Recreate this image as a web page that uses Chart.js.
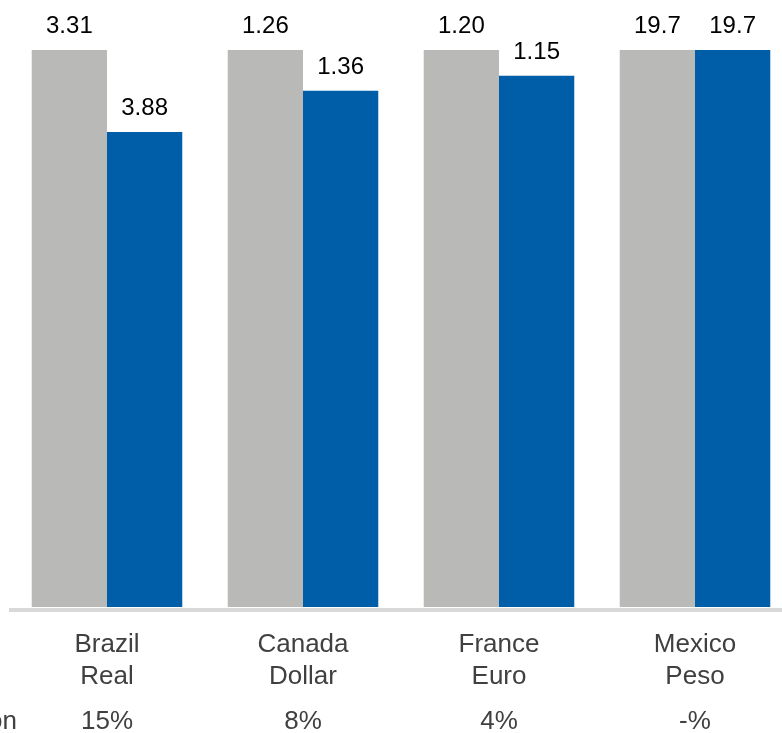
<!DOCTYPE html>
<html>
<head>
<meta charset="utf-8">
<script src="https://cdn.jsdelivr.net/npm/chart.js@4/dist/chart.umd.min.js"></script>
<style>
  html, body { margin: 0; padding: 0; background: #fff; overflow: hidden; }
  #wrap { width: 782px; height: 733px; overflow: hidden; position: relative; }
  #wrap canvas { position: absolute; left: 0; top: 0; }
</style>
</head>
<body>
<div id="wrap"><canvas id="fxChart" width="800" height="733"></canvas></div>
<script>
// currencies shown, two lines each
const categories = [['Brazil', 'Real'], ['Canada', 'Dollar'], ['France', 'Euro'], ['Mexico', 'Peso']];
// bar heights, indexed to the earlier rate = 100
const earlierIndex = [100, 100, 100, 100];
const laterIndex = [85.3, 92.7, 95.4, 100];
// rates printed above the bars
const earlierRates = ['3.31', '1.26', '1.20', '19.7'];
const laterRates = ['3.88', '1.36', '1.15', '19.7'];
// bottom row
const rowTitle = 'Devaluation';
const devaluation = ['15%', '8%', '4%', '-%'];

const FONT = '"Liberation Sans", Arial, sans-serif';

// value labels, axis line and category text
const labelsPlugin = {
  id: 'fxLabels',
  afterDatasetsDraw(chart) {
    const ctx = chart.ctx;
    const area = chart.chartArea;
    const x = chart.scales.x;
    const rates = [earlierRates, laterRates];

    ctx.save();
    // axis line
    ctx.fillStyle = '#d9d9d9';
    ctx.fillRect(area.left, area.bottom + 1, area.right - area.left + 20, 4);

    // numbers above bars
    ctx.fillStyle = '#000';
    ctx.font = '24px ' + FONT;
    ctx.textAlign = 'center';
    ctx.textBaseline = 'alphabetic';
    chart.data.datasets.forEach((ds, i) => {
      chart.getDatasetMeta(i).data.forEach((bar, j) => {
        ctx.fillText(rates[i][j], bar.x, bar.y - 17);
      });
    });

    // category names and devaluation row
    ctx.fillStyle = '#404040';
    ctx.font = '26px ' + FONT;
    categories.forEach((lines, j) => {
      const cx = x.getPixelForValue(j);
      ctx.fillText(lines[0], cx, area.bottom + 45);
      ctx.fillText(lines[1], cx, area.bottom + 77);
      ctx.fillText(devaluation[j], cx, area.bottom + 122);
    });
    ctx.textAlign = 'right';
    ctx.fillText(rowTitle, 17, area.bottom + 122);
    ctx.restore();
  }
};

new Chart(document.getElementById('fxChart'), {
  type: 'bar',
  data: {
    labels: categories.map(c => c.join(' ')),
    datasets: [{
      label: 'Earlier',
      data: earlierIndex,
      backgroundColor: '#b9b9b7',
      borderWidth: 0
    }, {
      label: 'Later',
      data: laterIndex,
      backgroundColor: '#005ea8',
      borderWidth: 0
    }]
  },
  options: {
    responsive: false,
    animation: false,
    events: [],
    layout: { padding: { left: 9, right: 7, top: 0, bottom: 126 } },
    datasets: { bar: { categoryPercentage: 0.768, barPercentage: 1 } },
    plugins: { legend: { display: false }, tooltip: { enabled: false } },
    scales: {
      x: { display: false },
      y: { display: false, min: 0, max: 109 }
    }
  },
  plugins: [labelsPlugin]
});
</script>
</body>
</html>
